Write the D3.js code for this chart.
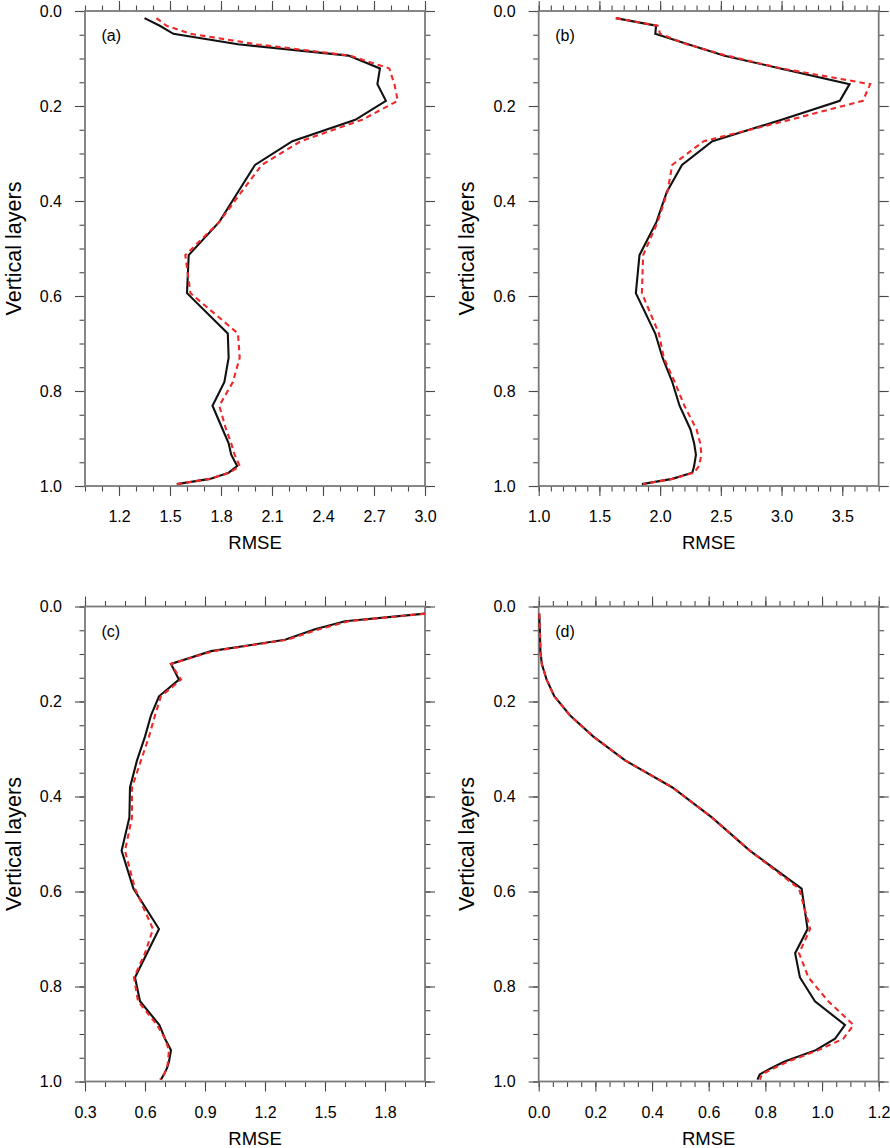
<!DOCTYPE html>
<html>
<head>
<meta charset="utf-8">
<script src="https://cdn.jsdelivr.net/npm/d3@7/dist/d3.min.js"></script>
<style>
  html, body { margin: 0; padding: 0; background: #fff; }
  svg { display: block; font-family: "Liberation Sans", Arial, Helvetica, sans-serif; }
</style>
</head>
<body>
<script>
// ---------------- DATA ----------------
// vertical layers (shared by all panels)
const levels = [0.015, 0.031, 0.048, 0.070, 0.094, 0.121, 0.154, 0.189, 0.229, 0.274,
                0.324, 0.381, 0.444, 0.514, 0.594, 0.679, 0.730, 0.781, 0.831, 0.881,
                0.910, 0.934, 0.958, 0.972, 0.985, 0.996];

// panel (a)
const blackA = [1.35, 1.44, 1.52, 1.90, 2.55, 2.735, 2.72, 2.77, 2.59, 2.22,
                2.00, 1.90, 1.79, 1.61, 1.60, 1.84, 1.845, 1.82, 1.75, 1.81,
                1.845, 1.86, 1.895, 1.845, 1.735, 1.54];
const redA   = [1.42, 1.48, 1.62, 2.01, 2.56, 2.79, 2.82, 2.84, 2.63, 2.27,
                2.04, 1.92, 1.79, 1.59, 1.62, 1.90, 1.91, 1.87, 1.79, 1.83,
                1.86, 1.88, 1.91, 1.85, 1.735, 1.54];
// panel (b)
const blackB = [1.635, 1.967, 1.96, 2.23, 2.53, 2.99, 3.56, 3.48, 3.00, 2.43,
                2.18, 2.055, 1.97, 1.83, 1.80, 1.96, 2.02, 2.10, 2.16, 2.25,
                2.28, 2.295, 2.28, 2.265, 2.10, 1.85];
const redB   = [1.635, 1.98, 2.00, 2.22, 2.55, 3.00, 3.73, 3.67, 3.07, 2.36,
                2.10, 2.06, 1.98, 1.86, 1.85, 1.99, 2.03, 2.12, 2.20, 2.30,
                2.33, 2.34, 2.32, 2.28, 2.10, 1.86];
// panel (c)
const blackC = [2.00, 1.60, 1.45, 1.30, 0.93, 0.73, 0.77, 0.67, 0.63, 0.60,
                0.56, 0.525, 0.522, 0.483, 0.542, 0.67, 0.61, 0.55, 0.575, 0.672,
                0.70, 0.73, 0.72, 0.71, 0.695, 0.68];
const redC   = [2.00, 1.62, 1.47, 1.31, 0.94, 0.73, 0.78, 0.68, 0.65, 0.62,
                0.58, 0.535, 0.535, 0.50, 0.55, 0.64, 0.60, 0.545, 0.565, 0.66,
                0.70, 0.72, 0.715, 0.71, 0.695, 0.675];
// panel (d)
const blackD = [0.002, 0.003, 0.004, 0.005, 0.006, 0.011, 0.028, 0.055, 0.11, 0.193,
                0.305, 0.472, 0.611, 0.745, 0.928, 0.949, 0.905, 0.922, 0.975, 1.081,
                1.046, 0.978, 0.868, 0.82, 0.78, 0.772];
const redD   = [0.002, 0.003, 0.004, 0.005, 0.006, 0.011, 0.028, 0.055, 0.11, 0.193,
                0.305, 0.472, 0.611, 0.745, 0.919, 0.958, 0.919, 0.952, 1.022, 1.111,
                1.075, 0.987, 0.88, 0.83, 0.787, 0.781];

// axis ranges and tick labels
const xDomainA = [1.0, 3.0], xMajorA = [1.2, 1.5, 1.8, 2.1, 2.4, 2.7, 3.0], xMinorStepA = 0.1;
const xDomainB = [1.0, 3.8], xMajorB = [1.0, 1.5, 2.0, 2.5, 3.0, 3.5],      xMinorStepB = 0.1;
const xDomainC = [0.3, 2.0], xMajorC = [0.3, 0.6, 0.9, 1.2, 1.5, 1.8],      xMinorStepC = 0.1;
const xDomainD = [0.0, 1.2], xMajorD = [0.0, 0.2, 0.4, 0.6, 0.8, 1.0, 1.2], xMinorStepD = 0.05;
const yMajor = [0.0, 0.2, 0.4, 0.6, 0.8, 1.0], yMinorStep = 0.05;
const panelLabels = ["(a)", "(b)", "(c)", "(d)"];
const xTitle = "RMSE", yTitle = "Vertical layers";

// ---------------- DRAWING ----------------
const W = 890, H = 1148, PW = 340, PH = 475;
const svg = d3.select("body").append("svg").attr("width", W).attr("height", H);

const panels = [
  { label: panelLabels[0], left: 85,    top: 11,  domain: xDomainA, major: xMajorA, step: xMinorStepA, black: blackA, red: redA },
  { label: panelLabels[1], left: 538.7, top: 11,  domain: xDomainB, major: xMajorB, step: xMinorStepB, black: blackB, red: redB },
  { label: panelLabels[2], left: 85,    top: 606.5, domain: xDomainC, major: xMajorC, step: xMinorStepC, black: blackC, red: redC },
  { label: panelLabels[3], left: 538.7, top: 606.5, domain: xDomainD, major: xMajorD, step: xMinorStepD, black: blackD, red: redD }
];

function stepRange(d0, d1, step) {
  const a = Math.round(d0 / step), b = Math.round(d1 / step);
  return d3.range(a, b + 1).map(i => +(i * step).toFixed(4));
}

const fmt = d3.format(".1f");
const TICK_COLOR = "#4a4a4a", FRAME_COLOR = "#7a7a7a";

panels.forEach(p => {
  const g = svg.append("g").attr("transform", `translate(${p.left},${p.top})`);
  const x = d3.scaleLinear().domain(p.domain).range([0, PW]);
  const y = d3.scaleLinear().domain([0, 1]).range([0, PH]);
  const xMinor = stepRange(p.domain[0], p.domain[1], p.step);
  const yMinor = stepRange(0, 1, yMinorStep);

  function styleAxis(sel) {
    sel.select(".domain").remove();
    sel.selectAll(".tick line").attr("stroke", TICK_COLOR).attr("stroke-width", 1.1);
    sel.selectAll(".tick text").attr("fill", "#000").style("font-size", "16px")
       .style("font-family", '"Liberation Sans", Arial, Helvetica, sans-serif');
  }

  // minor ticks (all four sides, outward)
  g.append("g").attr("transform", `translate(0,${PH})`)
    .call(d3.axisBottom(x).tickValues(xMinor).tickSize(5.5).tickFormat("")).call(styleAxis);
  g.append("g")
    .call(d3.axisTop(x).tickValues(xMinor).tickSize(5.5).tickFormat("")).call(styleAxis);
  g.append("g")
    .call(d3.axisLeft(y).tickValues(yMinor).tickSize(5.5).tickFormat("")).call(styleAxis);
  g.append("g").attr("transform", `translate(${PW},0)`)
    .call(d3.axisRight(y).tickValues(yMinor).tickSize(5.5).tickFormat("")).call(styleAxis);

  // major ticks
  g.append("g").attr("transform", `translate(0,${PH})`)
    .call(d3.axisBottom(x).tickValues(p.major).tickSize(10).tickPadding(15).tickFormat(fmt)).call(styleAxis);
  g.append("g")
    .call(d3.axisTop(x).tickValues(p.major).tickSize(10).tickFormat("")).call(styleAxis);
  g.append("g")
    .call(d3.axisLeft(y).tickValues(yMajor).tickSize(10).tickPadding(13).tickFormat(fmt)).call(styleAxis);
  g.append("g").attr("transform", `translate(${PW},0)`)
    .call(d3.axisRight(y).tickValues(yMajor).tickSize(10).tickFormat("")).call(styleAxis);

  // frame
  g.append("rect").attr("x", 0).attr("y", 0).attr("width", PW).attr("height", PH)
    .attr("fill", "none").attr("stroke", FRAME_COLOR).attr("stroke-width", 1.8);

  // lines
  const line = d3.line().x(d => x(d[0])).y(d => y(d[1]));
  const blackPts = p.black.map((v, i) => [v, levels[i]]);
  const redPts = p.red.map((v, i) => [v, levels[i]]);
  g.append("path").datum(blackPts).attr("d", line)
    .attr("fill", "none").attr("stroke", "#111").attr("stroke-width", 2.1)
    .attr("stroke-linejoin", "miter");
  g.append("path").datum(redPts).attr("d", line)
    .attr("fill", "none").attr("stroke", "#f02828").attr("stroke-width", 2.1)
    .attr("stroke-dasharray", "5.5,4");

  // panel label
  g.append("text").attr("x", 16.5).attr("y", 30).text(p.label)
    .style("font-size", "16px").attr("fill", "#000");

  // axis titles
  g.append("text").attr("x", PW / 2).attr("y", PH + 63).attr("text-anchor", "middle")
    .text(xTitle).style("font-size", "18.5px").attr("fill", "#000");
  g.append("text").attr("transform", `translate(-64.5,${PH / 2}) rotate(-90)`)
    .attr("text-anchor", "middle").text(yTitle).style("font-size", "21.5px").attr("fill", "#000");
});
</script>
</body>
</html>
